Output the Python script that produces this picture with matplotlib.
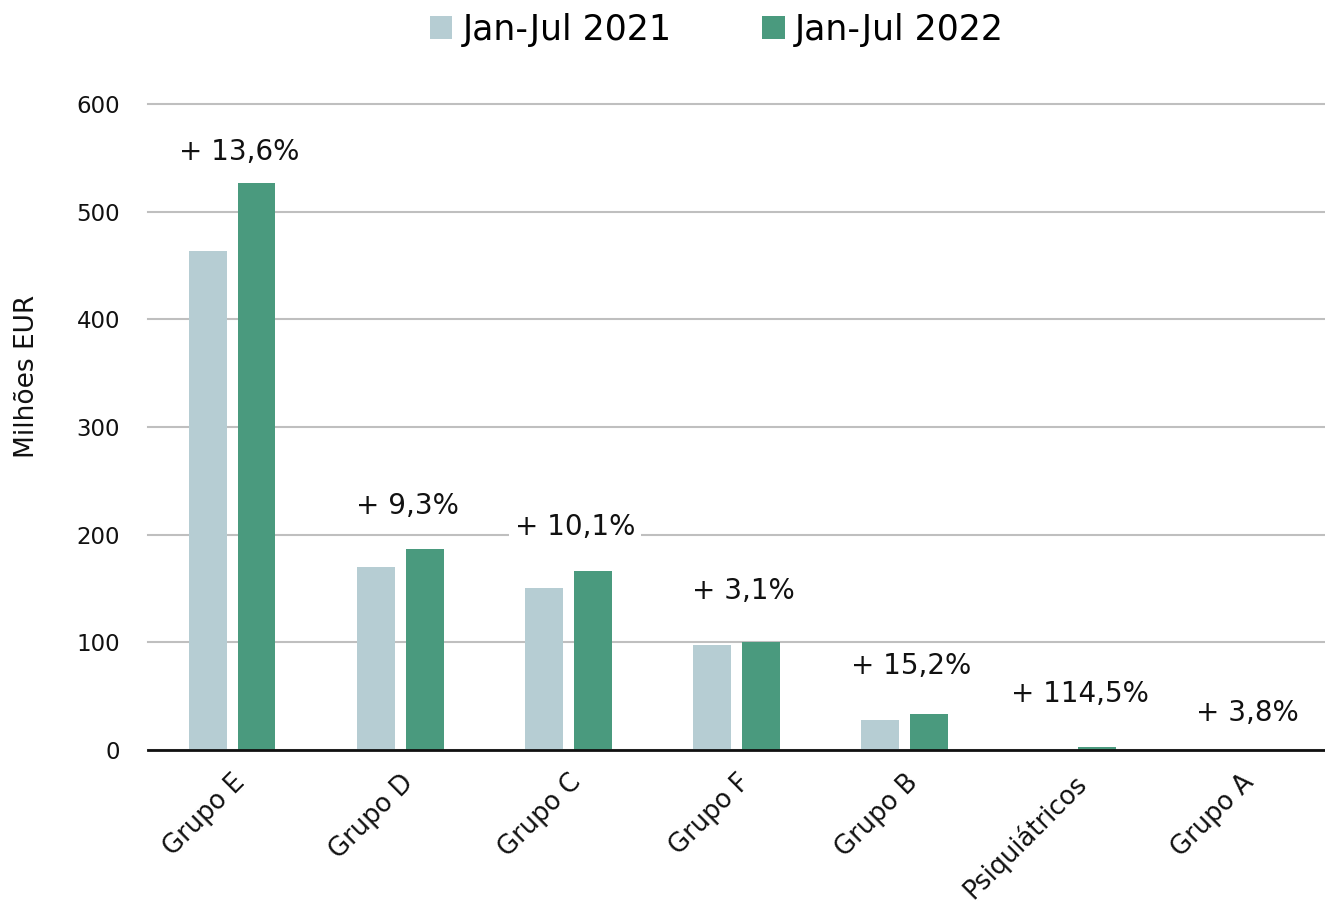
import numpy as np
import matplotlib.pyplot as plt
from matplotlib.patches import Patch

# data (milhões EUR)
categories = ['Grupo E', 'Grupo D', 'Grupo C', 'Grupo F', 'Grupo B', 'Psiquiátricos', 'Grupo A']
values_2021 = [463.5, 170.0, 150.5, 97.5, 28.0, 1.2, 0.4]
values_2022 = [526.6, 186.7, 166.3, 100.5, 33.0, 2.5, 0.4]
growth_labels = ['+ 13,6%', '+ 9,3%', '+ 10,1%', '+ 3,1%', '+ 15,2%', '+ 114,5%', '+ 3,8%']
label_y = [555, 227, 207, 148, 78, 52, 34]
series_names = ['Jan-Jul 2021', 'Jan-Jul 2022']

col_2021 = '#B6CDD3'
col_2022 = '#4A9A7E'

plt.rcParams['font.family'] = ['DejaVu Sans']

fig = plt.figure(figsize=(13.25, 9.08), dpi=100)
ax = fig.add_axes([0.1117, 0.174, 0.8883, 0.7115])

x = np.arange(len(categories))
w = 0.225
off = 0.145
ax.bar(x - off, values_2021, w, color=col_2021, zorder=3)
ax.bar(x + off, values_2022, w, color=col_2022, zorder=3)

# growth labels with white box so they cut the grid lines
for xi, yi, txt in zip(x, label_y, growth_labels):
    ax.text(xi + 0.04, yi, txt, ha='center', va='center', fontsize=20,
            color='#111111', zorder=4,
            bbox=dict(boxstyle='square,pad=0.2', facecolor='white', edgecolor='none'))

ax.set_xlim(-0.5, len(categories) - 0.5)
ax.set_ylim(0, 600)
ax.set_yticks(np.arange(0, 601, 100))
ax.yaxis.grid(True, color='#BFBFBF', linewidth=1.5, zorder=0)
for gl in ax.get_ygridlines():
    gl.set_clip_on(False)
ax.set_axisbelow(True)
for s in ['top', 'right', 'left']:
    ax.spines[s].set_visible(False)
ax.spines['bottom'].set_color('#111111')
ax.spines['bottom'].set_linewidth(2)
ax.spines['bottom'].set_zorder(5)

ax.tick_params(axis='y', length=0, pad=20, labelsize=16.5, labelcolor='#111111')
ax.tick_params(axis='x', length=0, pad=14)
ax.set_xticks(x)
ax.set_xticklabels(categories, rotation=45, ha='right', rotation_mode='anchor',
                   fontsize=18.5, color='#111111')
ax.set_ylabel('Milhões EUR', fontsize=19, color='#111111')
ax.yaxis.set_label_coords(-0.092, 0.579)

handles = [Patch(facecolor=col_2021), Patch(facecolor=col_2022)]
fig.legend(handles, series_names, loc='upper center', bbox_to_anchor=(0.541, 1.02),
           ncol=2, frameon=False, fontsize=25, handlelength=0.65, handleheight=0.65,
           handletextpad=0.3, columnspacing=2.6)

plt.savefig('out.png', dpi=100)
